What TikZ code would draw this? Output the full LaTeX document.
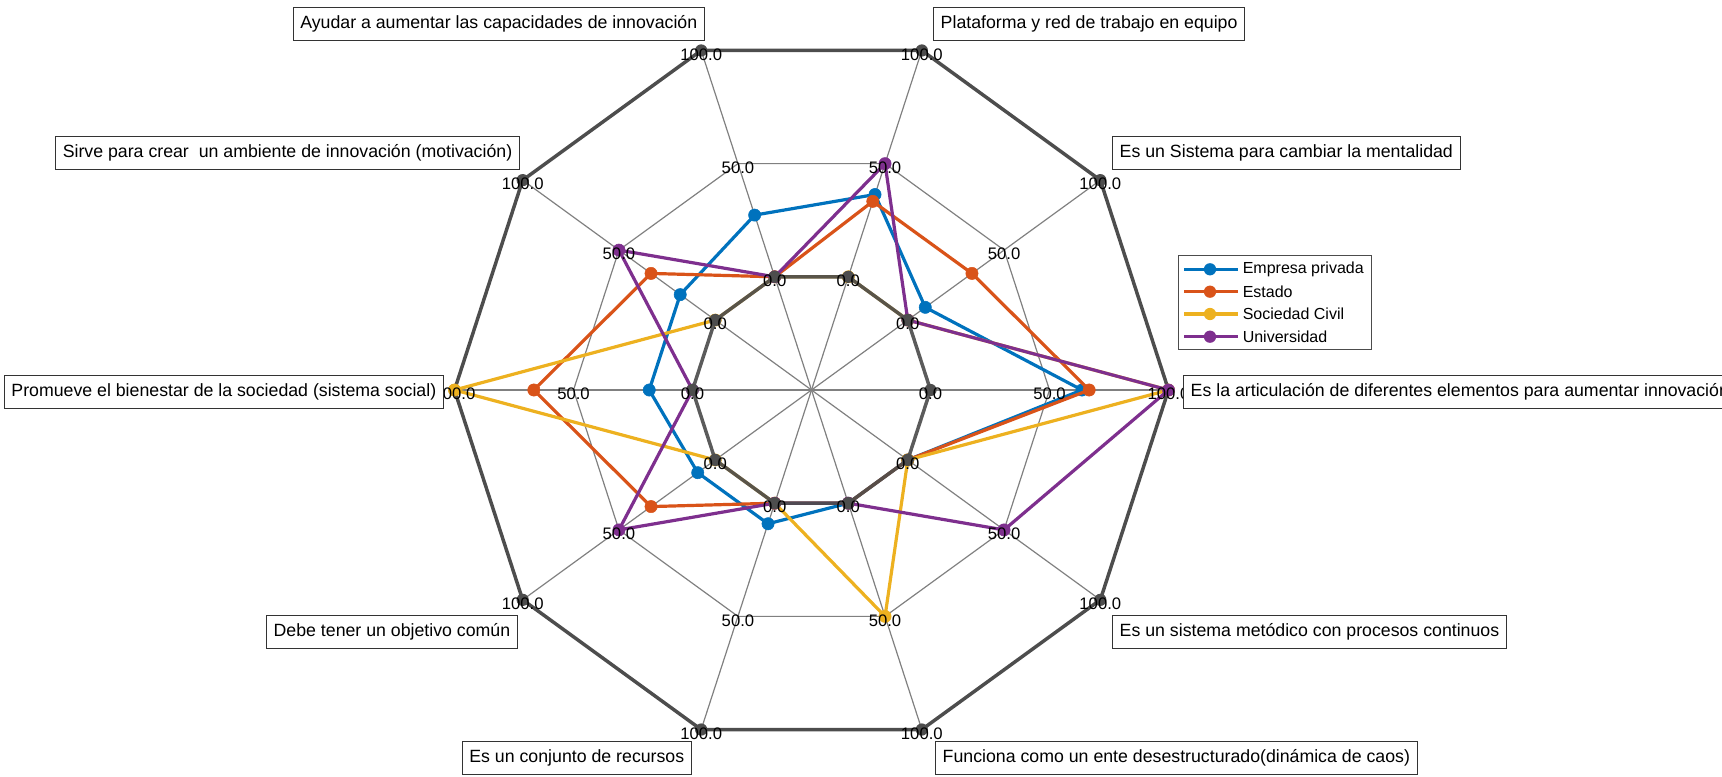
\documentclass[tikz,border=0pt]{standalone}
\usepackage{fontspec}
\setmainfont{Liberation Sans}

\definecolor{empresa}{HTML}{0072BD}
\definecolor{estado}{HTML}{D95319}
\definecolor{civil}{HTML}{EDB120}
\definecolor{univ}{HTML}{7E2F8E}
\definecolor{webgray}{HTML}{808080}
\definecolor{limgray}{HTML}{4D4D4D}

\newcommand{\rzero}{119}
\newcommand{\rstep}{2.38}

\tikzstyle{web} = [draw=webgray, line width=0.9pt]
\tikzstyle{limitline} = [draw=limgray, line width=2.6pt, line join=round]
\tikzstyle{dataline} = [line width=2.4pt, line join=round, mark=*, mark size=4.6pt, mark options={line width=0.4pt}]
\tikzstyle{scalelabel} = [inner sep=0pt, yshift=-3pt, font=\fontsize{12.5}{14}\selectfont]
\tikzstyle{axlabel} = [rectangle, draw=black!80, fill=white, line width=0.6pt, minimum height=24.75pt, inner xsep=5.5pt, font=\fontsize{13.3}{15}\selectfont]
\tikzstyle{legendbox} = [rectangle, draw=black!70, fill=white, line width=0.6pt, minimum width=144.75pt, minimum height=70.5pt]
\tikzstyle{legtext} = [anchor=west, inner sep=0pt, font=\fontsize{12}{14}\selectfont]

\begin{document}
\begin{tikzpicture}[x=0.75pt, y=0.75pt]
        \useasboundingbox (-811.5,-386) rectangle (910.5,390);
        \clip (-811.5,-386) rectangle (910.5,390);

        \foreach \a in {0,36,...,324}
            \draw [web] (0,0) -- (\a:357);
        \draw [web] (0:238) -- (36:238) -- (72:238) -- (108:238) -- (144:238) -- (180:238) -- (216:238) -- (252:238) -- (288:238) -- (324:238) -- cycle;

        \draw [limitline] (0:357) -- (36:357) -- (72:357) -- (108:357) -- (144:357) -- (180:357) -- (216:357) -- (252:357) -- (288:357) -- (324:357) -- cycle;
        \foreach \a in {0,36,...,324}
            \fill [limgray] (\a:357) circle (4.6pt);

        \draw [dataline, empresa] plot coordinates {(0:{\rzero+\rstep*63.64}) (36:{\rzero+\rstep*9.09}) (72:{\rzero+\rstep*36.36}) (108:{\rzero+\rstep*27.27}) (144:{\rzero+\rstep*18.18}) (180:{\rzero+\rstep*18.18}) (216:{\rzero+\rstep*9.09}) (252:{\rzero+\rstep*9.09}) (288:{\rzero}) (324:{\rzero})} -- cycle;
        \draw [dataline, estado] plot coordinates {(0:{\rzero+\rstep*66.67}) (36:{\rzero+\rstep*33.33}) (72:{\rzero+\rstep*33.33}) (108:{\rzero}) (144:{\rzero+\rstep*33.33}) (180:{\rzero+\rstep*66.67}) (216:{\rzero+\rstep*33.33}) (252:{\rzero}) (288:{\rzero}) (324:{\rzero})} -- cycle;
        \draw [dataline, civil] plot coordinates {(0:{\rzero+\rstep*100}) (36:{\rzero}) (72:{\rzero}) (108:{\rzero}) (144:{\rzero}) (180:{\rzero+\rstep*100}) (216:{\rzero}) (252:{\rzero}) (288:{\rzero+\rstep*50}) (324:{\rzero})} -- cycle;
        \draw [dataline, univ] plot coordinates {(0:{\rzero+\rstep*100}) (36:{\rzero}) (72:{\rzero+\rstep*50}) (108:{\rzero}) (144:{\rzero+\rstep*50}) (180:{\rzero}) (216:{\rzero+\rstep*50}) (252:{\rzero}) (288:{\rzero}) (324:{\rzero+\rstep*50})} -- cycle;

        \draw [limitline, draw opacity=0.92] (0:119) -- (36:119) -- (72:119) -- (108:119) -- (144:119) -- (180:119) -- (216:119) -- (252:119) -- (288:119) -- (324:119) -- cycle;
        \foreach \a in {0,36,...,324}
            \fill [limgray] (\a:119) circle (4.6pt);

        \foreach \a in {0,36,...,324} {
            \node (zero\a) [scalelabel] at (\a:119) {0.0};
            \node (half\a) [scalelabel] at (\a:238) {50.0};
            \node (full\a) [scalelabel] at (\a:357) {100.0};
        }

        \node (articula) [axlabel, anchor=west] at (371.5,-2) {Es la articulación de diferentes elementos para aumentar innovación};
        \node (mentalidad) [axlabel, anchor=south west] at (300.5,220) {Es un Sistema para cambiar la mentalidad};
        \node (plataforma) [axlabel, anchor=south west] at (121.5,349) {Plataforma y red de trabajo en equipo};
        \node (capacidades) [axlabel, anchor=south east] at (-106.5,349) {Ayudar a aumentar las capacidades de innovación};
        \node (ambiente) [axlabel, anchor=south east] at (-291.5,220) {Sirve para crear\ \ un ambiente de innovación (motivación)};
        \node (bienestar) [axlabel, anchor=east] at (-367.5,-2) {Promueve el bienestar de la sociedad (sistema social)};
        \node (objetivo) [axlabel, anchor=north east] at (-293.5,-225) {Debe tener un objetivo común};
        \node (recursos) [axlabel, anchor=north east] at (-119.5,-351) {Es un conjunto de recursos};
        \node (caos) [axlabel, anchor=north west] at (123.5,-351) {Funciona como un ente desestructurado(dinámica de caos)};
        \node (metodico) [axlabel, anchor=north west] at (300.5,-225) {Es un sistema metódico con procesos continuos\ };

        \node (legend) [legendbox] at (463,88) {};
        \foreach \c/\y/\t in {empresa/120.7/Empresa privada, estado/98.3/Estado, civil/76/Sociedad Civil, univ/53.3/Universidad} {
            \draw [\c, line width=2.4pt] (372.5,\y) -- (426.5,\y);
            \fill [\c] (398.5,\y) circle (4.6pt);
            \node (lg\c) [legtext] at (431,\y) {\t};
        }
    \end{tikzpicture}
\end{document}
